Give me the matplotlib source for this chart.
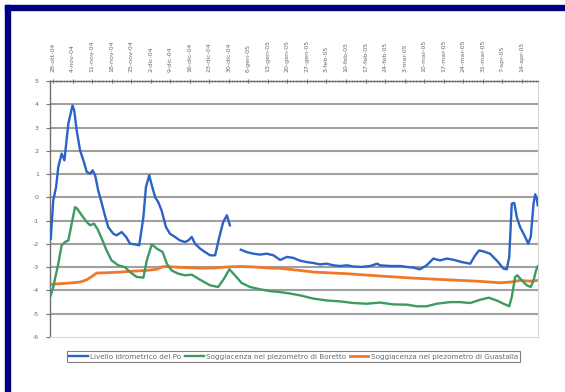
import matplotlib
matplotlib.use("Agg")
import matplotlib.pyplot as plt
import numpy as np
import datetime as dt
from matplotlib.patches import Rectangle

# Day offsets counted from 28-ott-04
start = dt.date(2004, 10, 28)
tick_days = list(range(0, 169, 7))
mesi = ["gen", "feb", "mar", "apr", "mag", "giu", "lug", "ago", "set", "ott", "nov", "dic"]
tick_labels = []
for d in tick_days:
    dd = start + dt.timedelta(days=d)
    tick_labels.append(f"{dd.day}-{mesi[dd.month - 1]}-{dd.strftime('%y')}")

# Livello idrometrico del Po (two segments, gap in early January)
po_days_a = [-0.8, 0.1, 1.1, 1.9, 3.1, 4.1, 5.5, 7.0, 7.6, 8.5, 9.7, 10.9, 12.1, 13.3,
             14.2, 15.1, 16.2, 17.5, 18.6, 19.8, 21.6, 22.8, 24.6, 26.2, 27.6, 29.4,
             30.9, 32.4, 33.3, 34.5, 35.4, 36.6, 37.7, 38.9, 40.5, 41.9, 43.7, 45.5,
             47.3, 48.5, 49.7, 50.9, 52.7, 54.5, 56.3, 58.1, 59.6, 61.0, 62.3, 63.4]
po_vals_a = [-1.78, -0.13, 0.44, 1.30, 1.88, 1.59, 3.17, 3.95, 3.74, 2.88, 2.02, 1.59,
             1.09, 1.02, 1.16, 0.95, 0.30, -0.27, -0.77, -1.28, -1.56, -1.63, -1.49,
             -1.70, -1.99, -2.02, -2.06, -0.85, 0.44, 0.95, 0.52, 0.01, -0.20, -0.56,
             -1.28, -1.56, -1.70, -1.85, -1.92, -1.85, -1.70, -1.99, -2.20, -2.35,
             -2.49, -2.49, -1.71, -1.06, -0.77, -1.20]
po_days_b = [67.3, 69.4, 71.8, 74.2, 76.6, 79.0, 81.4, 83.8, 86.1, 88.5, 90.9, 93.3,
             95.7, 98.1, 100.5, 102.9, 105.3, 107.6, 110.6, 113.6, 116.2, 117.2, 120.8,
             124.4, 126.8, 129.1, 131.5, 133.9, 136.3, 138.7, 141.1, 143.5, 146.5,
             149.5, 151.3, 152.7, 154.2, 156.6, 159.0, 161.4, 162.6, 163.5, 164.4,
             165.3, 166.2, 167.4, 169.2, 170.3, 171.2, 172.2, 172.8, 173.4, 173.7]
po_vals_b = [-2.25, -2.35, -2.42, -2.46, -2.42, -2.49, -2.69, -2.56, -2.60, -2.72,
             -2.78, -2.82, -2.88, -2.85, -2.92, -2.95, -2.92, -2.97, -2.99, -2.95,
             -2.85, -2.92, -2.95, -2.95, -2.99, -3.02, -3.09, -2.92, -2.63, -2.71,
             -2.63, -2.68, -2.78, -2.85, -2.49, -2.28, -2.32, -2.42, -2.71, -3.06,
             -3.09, -2.56, -0.27, -0.24, -0.85, -1.28, -1.70, -1.99, -1.70, -0.27,
             0.13, -0.06, -0.34]

# Soggiacenza nel piezometro di Boretto
bor_days = [-0.8, 0.1, 1.9, 3.1, 4.3, 5.5, 6.7, 7.9, 8.7, 10.3, 12.1, 13.3, 14.7,
            15.9, 17.5, 19.2, 21.0, 23.4, 25.8, 27.6, 30.0, 32.4, 33.6, 35.4, 37.2,
            39.3, 40.8, 42.5, 44.9, 47.3, 49.7, 52.7, 56.3, 59.2, 61.3, 63.2, 65.2,
            67.6, 70.6, 74.2, 77.8, 81.4, 84.9, 88.5, 93.3, 98.1, 102.9, 107.6,
            112.4, 117.2, 122.0, 126.8, 130.4, 133.9, 137.5, 142.3, 145.9, 149.5,
            153.1, 156.1, 159.0, 161.4, 163.5, 164.4, 165.6, 166.4, 168.0, 169.8,
            171.2, 172.2, 173.1, 173.7]
bor_vals = [-4.21, -3.85, -2.85, -2.06, -1.92, -1.85, -1.13, -0.42, -0.49, -0.77,
            -1.06, -1.20, -1.13, -1.35, -1.78, -2.28, -2.71, -2.92, -3.00, -3.21,
            -3.42, -3.45, -2.71, -2.02, -2.20, -2.35, -2.85, -3.14, -3.28, -3.35,
            -3.32, -3.54, -3.78, -3.85, -3.49, -3.09, -3.35, -3.68, -3.85, -3.95,
            -4.03, -4.07, -4.13, -4.21, -4.35, -4.43, -4.47, -4.54, -4.57, -4.52,
            -4.60, -4.61, -4.68, -4.68, -4.57, -4.50, -4.50, -4.54, -4.40, -4.31,
            -4.43, -4.57, -4.68, -4.28, -3.42, -3.35, -3.57, -3.78, -3.85, -3.57,
            -3.14, -2.97]

# Soggiacenza nel piezometro di Guastalla
gua_days = [-0.8, 2.5, 6.1, 9.7, 12.1, 13.9, 15.7, 19.2, 24.0, 28.8, 33.6, 37.2,
            39.5, 43.1, 47.9, 52.7, 57.5, 62.3, 67.0, 71.8, 77.8, 81.4, 88.5, 93.3,
            105.3, 117.2, 129.1, 141.1, 153.1, 160.2, 163.8, 167.4, 171.0, 173.7]
gua_vals = [-3.74, -3.71, -3.68, -3.64, -3.54, -3.40, -3.25, -3.24, -3.21, -3.17,
            -3.14, -3.09, -2.97, -2.99, -3.02, -3.04, -3.04, -2.99, -2.97, -2.99,
            -3.04, -3.05, -3.14, -3.21, -3.28, -3.38, -3.47, -3.54, -3.61, -3.67,
            -3.64, -3.57, -3.60, -3.57]

series_names = ["Livello idrometrico del Po",
                "Soggiacenza nel piezometro di Boretto",
                "Soggiacenza nel piezometro di Guastalla"]
blue, green, orange = "#2A62C6", "#3E9A60", "#F0782A"
grey_txt = "#6A6A6A"

fig = plt.figure(figsize=(5.65, 3.92), dpi=100)
fig.patch.set_facecolor("white")

# Navy frame along top and left edges
navy = "#000080"
fig.patches.append(Rectangle((5 / 565, 0), 5 / 565, 1 - 5 / 392, transform=fig.transFigure,
                             color=navy, zorder=0))
fig.patches.append(Rectangle((5 / 565, 1 - 10 / 392), 1, 5 / 392, transform=fig.transFigure,
                             color=navy, zorder=0))

ax = fig.add_axes([50 / 565, 1 - 337 / 392, 488 / 565, 256 / 392])
ax.set_xlim(-1.07, 173.8)
ax.set_ylim(-6, 5)

ax.set_yticks(range(-6, 6))
ax.set_yticklabels([str(v) for v in range(-6, 6)])
for y in range(-5, 5):
    ax.axhline(y, color="#A0A0A0", lw=1.5, zorder=1)

l1, = ax.plot(po_days_a, po_vals_a, color=blue, lw=1.7, zorder=4)
ax.plot(po_days_b, po_vals_b, color=blue, lw=1.7, zorder=4)
l2, = ax.plot(bor_days, bor_vals, color=green, lw=1.7, zorder=3)
l3, = ax.plot(gua_days, gua_vals, color=orange, lw=2.0, zorder=2)

ax.xaxis.tick_top()
ax.set_xticks(tick_days)
ax.set_xticklabels(tick_labels, rotation=90, fontsize=4.5, color=grey_txt)
ax.set_xticks(np.arange(-1, 174, 1), minor=True)
ax.tick_params(axis="x", which="major", length=3, width=0.8, color="#707070", pad=5,
               top=True, bottom=False, direction="inout")
ax.tick_params(axis="x", which="minor", length=2, width=0.6, color="#808080",
               top=True, bottom=False, direction="inout")
ax.tick_params(axis="y", length=3, width=0.8, color="#707070", labelsize=4.5,
               labelcolor=grey_txt, direction="out", pad=5)

for s in ("left", "top"):
    ax.spines[s].set_color("#707070")
    ax.spines[s].set_linewidth(1.0)
for s in ("right", "bottom"):
    ax.spines[s].set_color("#D8D8D8")
    ax.spines[s].set_linewidth(0.8)

leg = fig.legend([l1, l2, l3], series_names, loc="center",
                 bbox_to_anchor=(293.5 / 565, 1 - 356.5 / 392), ncol=3, fontsize=5.2,
                 frameon=True, fancybox=False, edgecolor="#606060", handlelength=2.6,
                 handletextpad=0.3, columnspacing=0.5, borderpad=0.3, labelcolor=grey_txt)
leg.get_frame().set_linewidth(0.8)

fig.savefig("out.png", dpi=100, facecolor="white")
